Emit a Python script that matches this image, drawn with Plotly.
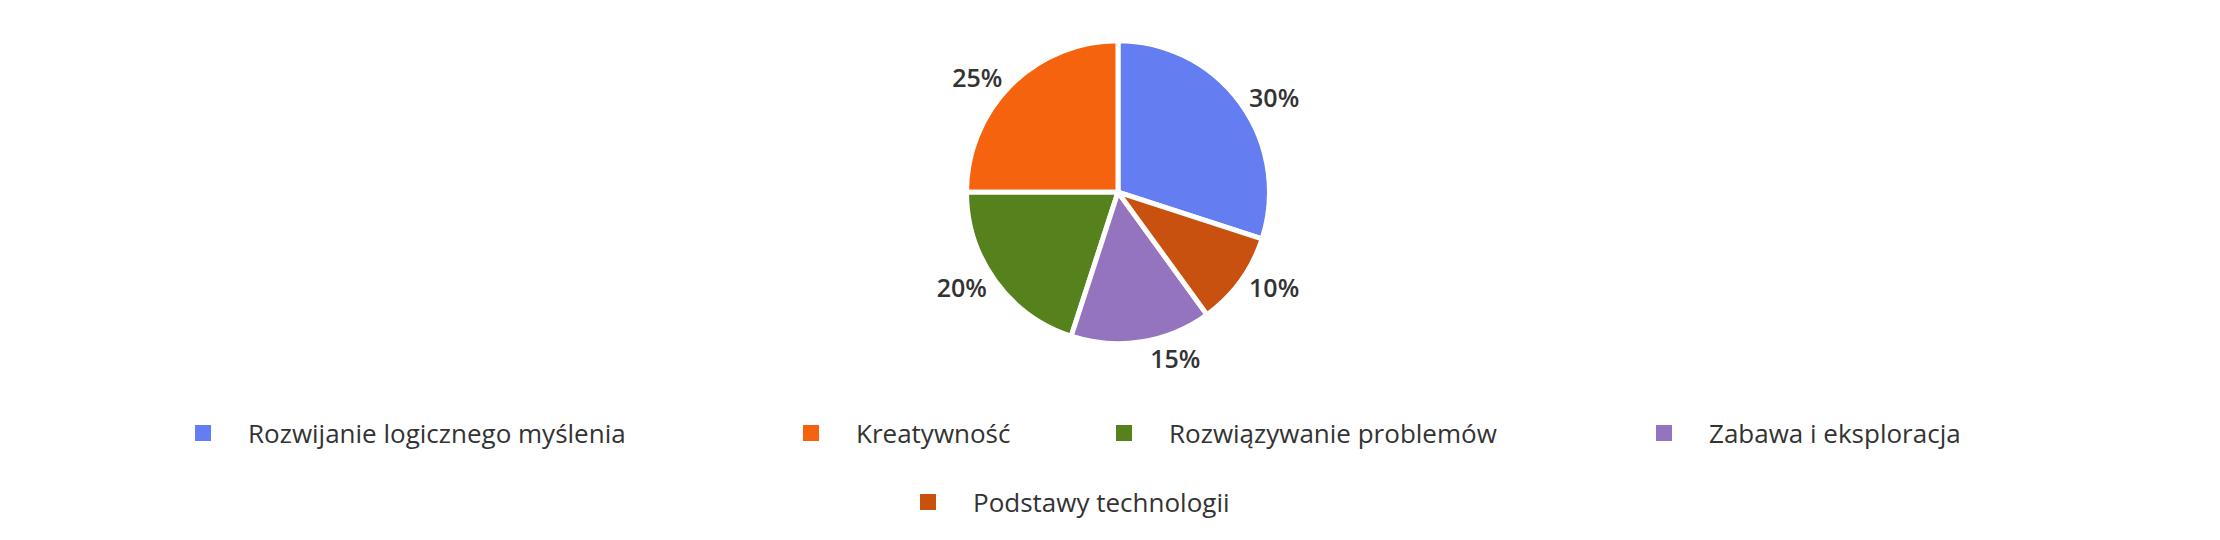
import plotly.graph_objects as go

categories = [
    "Rozwijanie logicznego myślenia",
    "Kreatywność",
    "Rozwiązywanie problemów",
    "Zabawa i eksploracja",
    "Podstawy technologii",
]
values = [30, 25, 20, 15, 10]
colors = ["#647DF0", "#F5630F", "#56821E", "#9474BF", "#C9510F"]

FONT = "Open Sans"
W, H = 2220, 540

fig = go.Figure()
fig.add_trace(go.Pie(
    labels=categories,
    values=values,
    sort=False,
    direction="counterclockwise",
    rotation=0,
    marker=dict(colors=colors, line=dict(color="white", width=5)),
    textinfo="percent",
    textposition="outside",
    textfont=dict(family=FONT, size=25, color="#333333", weight=600),
    showlegend=False,
    domain=dict(x=[0, 1], y=[0.3785, 0.9395]),
    hoverinfo="label+percent",
))

# legend placement: left edge (px) and vertical centre (px) of each legend box
legend_left_px = [150, 758, 1071, 1611, 875]
legend_mid_px = [425, 425, 425, 425, 494]

layout_legends = {}
for i, (name, c) in enumerate(zip(categories, colors)):
    key = "legend" if i == 0 else f"legend{i + 1}"
    fig.add_trace(go.Scatter(
        x=[None], y=[None], mode="markers", name=name,
        marker=dict(symbol="square", size=16, color=c),
        legend=key,
        hoverinfo="skip",
    ))
    layout_legends[key] = dict(
        orientation="h",
        x=legend_left_px[i] / W, xanchor="left",
        y=1 - legend_mid_px[i] / H, yanchor="middle",
        font=dict(family=FONT, size=26, color="#333333"),
        itemwidth=80, itemsizing="trace", bgcolor="rgba(0,0,0,0)",
    )

fig.update_layout(
    width=W, height=H,
    margin=dict(l=0, r=0, t=0, b=0, autoexpand=False),
    paper_bgcolor="white", plot_bgcolor="white",
    xaxis=dict(visible=False), yaxis=dict(visible=False),
    **layout_legends,
)

fig.write_html("out.html")
